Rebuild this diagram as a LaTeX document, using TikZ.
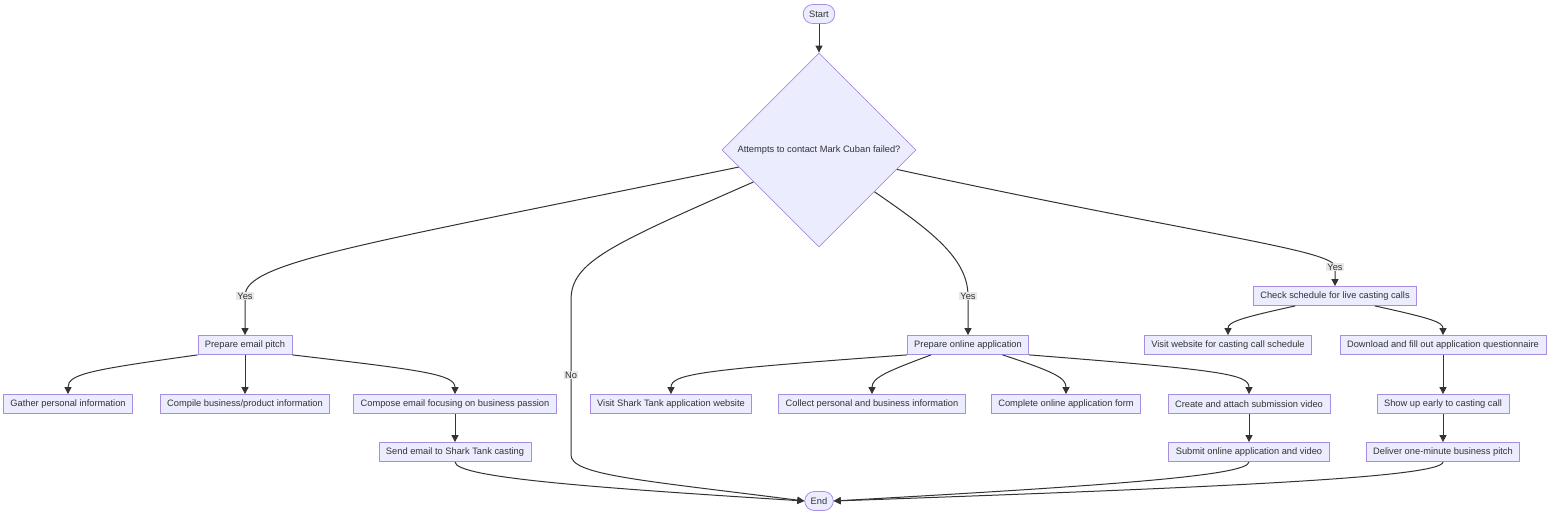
\documentclass[tikz,border=0pt]{standalone}
\usepackage{fontspec}
\setmainfont{Liberation Sans}
\usepackage{xcolor}
\usetikzlibrary{shapes.geometric,arrows.meta}
\definecolor{boxfill}{HTML}{ECECFF}
\definecolor{boxline}{HTML}{A88EE2}
\definecolor{edgeline}{HTML}{333333}
\definecolor{labelfill}{HTML}{E8E8E8}

\tikzset{
  stepbox/.style={draw=boxline, fill=boxfill, line width=0.8pt,
    minimum height=19pt, inner xsep=7pt, inner ysep=0pt,
    font=\fontsize{9.3}{11}\selectfont, text=edgeline},
  terminal/.style={stepbox, rounded corners=9.5pt, inner xsep=6pt},
  decision/.style={stepbox, diamond, aspect=1, minimum size=194pt, inner sep=0pt},
  flow/.style={draw=edgeline, line width=1pt, -{Triangle[length=7pt,width=7pt]}},
  lbl/.style={fill=labelfill, inner sep=1.2pt, font=\fontsize{9.3}{11}\selectfont, text=edgeline}
}

\begin{document}
\begin{tikzpicture}[x=1pt, y=-1pt]
  \useasboundingbox (0,0) rectangle (1568,522);

  \node[terminal] (start) at (819,14) {Start};
  \node[decision] (dia) at (819,150) {Attempts to contact Mark Cuban failed?};

  % email branch
  \node[stepbox] (pitch) at (245,345) {Prepare email pitch};
  \node[stepbox] (gather) at (68,404) {Gather personal information};
  \node[stepbox] (compile) at (245,404) {Compile business/product information};
  \node[stepbox] (compose) at (455,404) {Compose email focusing on business passion};
  \node[stepbox] (send) at (455,452) {Send email to Shark Tank casting};

  % online branch
  \node[stepbox] (online) at (968,345) {Prepare online application};
  \node[stepbox] (visit) at (671,404) {Visit Shark Tank application website};
  \node[stepbox] (collect) at (872,404) {Collect personal and business information};
  \node[stepbox] (complete) at (1066,404) {Complete online application form};
  \node[stepbox] (video) at (1249,404) {Create and attach submission video};
  \node[stepbox] (submit) at (1249,452) {Submit online application and video};

  % casting call branch
  \node[stepbox] (check) at (1335,296) {Check schedule for live casting calls};
  \node[stepbox] (website) at (1228,345) {Visit website for casting call schedule};
  \node[stepbox] (form) at (1443,345) {Download and fill out application questionnaire};
  \node[stepbox] (early) at (1443,404) {Show up early to casting call};
  \node[stepbox] (deliver) at (1443,452) {Deliver one-minute business pitch};

  \node[terminal] (finish) at (819,501) {End};

  \draw[flow] (start) -- (dia);
  \draw[flow] (dia.192) .. controls (360,245) and (245,262) .. (245,296) node[lbl] {Yes} -- (pitch);
  \draw[flow] (dia.206) .. controls (610,245) and (571,262) .. (571,300) -- (571,375) node[lbl] {No}
    -- (571,455) .. controls (571,475) and (640,480) .. (finish.west);
  \draw[flow] (dia.-37) .. controls (930,230) and (968,258) .. (968,296) node[lbl] {Yes} -- (online);
  \draw[flow] (dia.-14) .. controls (1200,235) and (1335,250) .. (1335,267) node[lbl] {Yes} -- (check);

  \draw[flow] (pitch.south west) .. controls (90,370) and (68,374) .. (gather);
  \draw[flow] (pitch) -- (compile);
  \draw[flow] (pitch.south east) .. controls (420,370) and (455,374) .. (compose);
  \draw[flow] (compose) -- (send);
  \draw[flow] (send) .. controls (455,478) and (600,488) .. (finish.west);

  \draw[flow] (online.south west) .. controls (700,370) and (671,374) .. (visit);
  \draw[flow] (online.-165) .. controls (885,372) and (872,378) .. (collect);
  \draw[flow] (online.-16) .. controls (1055,372) and (1066,378) .. (complete);
  \draw[flow] (online.south east) .. controls (1220,370) and (1249,374) .. (video);
  \draw[flow] (video) -- (submit);
  \draw[flow] (submit) .. controls (1249,476) and (1100,486) .. (finish.east);

  \draw[flow] (check.-166) .. controls (1240,318) and (1228,322) .. (website);
  \draw[flow] (check.-14) .. controls (1430,318) and (1443,322) .. (form);
  \draw[flow] (form) -- (early);
  \draw[flow] (early) -- (deliver);
  \draw[flow] (deliver) .. controls (1443,478) and (1200,488) .. (finish.east);
\end{tikzpicture}
\end{document}
